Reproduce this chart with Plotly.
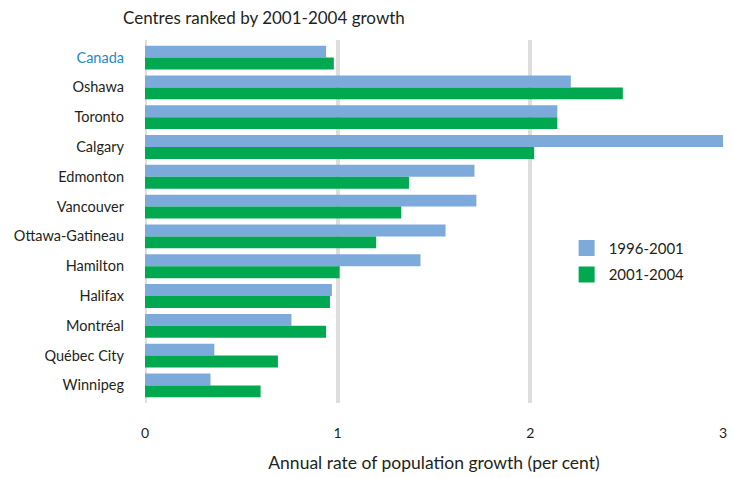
import plotly.graph_objects as go

# Census metropolitan areas, ranked by 2001-2004 growth
centres = ["Canada", "Oshawa", "Toronto", "Calgary", "Edmonton", "Vancouver",
           "Ottawa-Gatineau", "Hamilton", "Halifax", "Montréal", "Québec City", "Winnipeg"]
growth_1996_2001 = [0.94, 2.21, 2.14, 3.00, 1.71, 1.72, 1.56, 1.43, 0.97, 0.76, 0.36, 0.34]
growth_2001_2004 = [0.98, 2.48, 2.14, 2.02, 1.37, 1.33, 1.20, 1.01, 0.96, 0.94, 0.69, 0.60]
x_ticks = [0, 1, 2, 3]

FONT = "Lato, 'Open Sans', sans-serif"
TEXT = "#231f20"
BLUE = "#7cabdb"
GREEN = "#00a84f"
GRID = "#dedede"

tick_text = [f'<span style="color:#1b8bc8">{c}</span>' if c == "Canada" else c for c in centres]

fig = go.Figure()
fig.add_trace(go.Bar(y=centres, x=growth_1996_2001, orientation="h", name="1996-2001",
                     marker=dict(color=BLUE, line=dict(width=0)), showlegend=False))
fig.add_trace(go.Bar(y=centres, x=growth_2001_2004, orientation="h", name="2001-2004",
                     marker=dict(color=GREEN, line=dict(width=0)), showlegend=False))

# legend entries with larger square swatches
for name, color in [("1996-2001", BLUE), ("2001-2004", GREEN)]:
    fig.add_trace(go.Scatter(x=[None], y=[None], mode="markers", name=name, legendgroup=name,
                             marker=dict(symbol="square", size=19, color=color)))

fig.update_layout(
    width=734, height=478,
    margin=dict(l=145, r=7, t=40, b=75),
    paper_bgcolor="white", plot_bgcolor="white",
    barmode="group", bargap=0.2, bargroupgap=0,
    font=dict(family=FONT, size=14, color=TEXT),
    title=dict(text="Centres ranked by 2001-2004 growth", x=123 / 734, xanchor="left",
               xref="container", y=1 - 18 / 478, yanchor="middle",
               font=dict(family=FONT, size=17, color=TEXT)),
    legend=dict(x=0.726, y=0.472, xanchor="left", yanchor="top",
                font=dict(size=15, color=TEXT), itemwidth=34, tracegroupgap=4,
                traceorder="grouped", bgcolor="rgba(0,0,0,0)"),
    xaxis=dict(range=[0, 3], tickvals=x_ticks, ticktext=[str(v) for v in x_ticks],
               showgrid=True, gridcolor=GRID, gridwidth=4,
               zeroline=False, showline=False, ticks="",
               ticklabelstandoff=20,
               title=dict(text="Annual rate of population growth (per cent)",
                          standoff=16, font=dict(size=17.5, color=TEXT))),
    yaxis=dict(categoryorder="array", categoryarray=centres, range=[11.59, -0.59],
               tickvals=centres, ticktext=tick_text, tickfont=dict(size=14.5),
               showgrid=False, zeroline=False, showline=False, ticks="",
               ticklabelstandoff=20),
)
fig.add_vline(x=0, line=dict(color=GRID, width=4), layer="below")

fig.write_html("out.html")
